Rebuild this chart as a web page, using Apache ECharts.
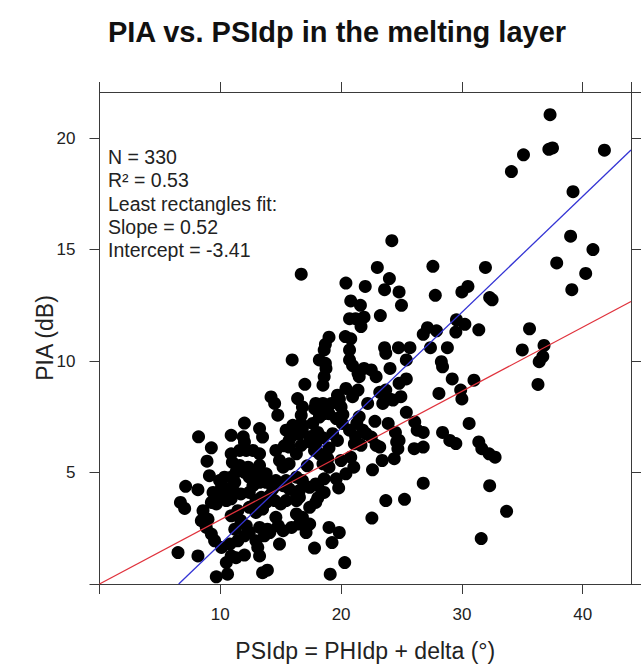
<!DOCTYPE html>
<html><head><meta charset="utf-8">
<script src="https://cdn.jsdelivr.net/npm/echarts@6/dist/echarts.min.js"></script>
<style>html,body{margin:0;padding:0;background:#fff}#c{width:641px;height:669px}</style>
</head><body><div id="c"></div>
<script>
// PSIdp values (deg)
const psidp = [
37.3,35.1,34.1,37.2,37.5,41.8,39.2,24.2,39.0,40.85,37.85,40.25,39.1,16.7,23.0,27.6,31.95,20.4,24.0,22.0,
23.6,24.8,27.8,30.0,30.5,20.8,21.6,25.0,32.3,32.5,20.7,21.2,21.9,21.65,23.25,27.15,26.8,27.9,29.55,30.25,
29.5,31.4,35.6,36.8,35.0,19.0,18.7,20.8,20.35,23.6,24.75,25.7,27.4,28.8,20.7,36.7,36.4,36.3,15.95,18.2,
18.75,18.6,18.5,17.0,20.4,14.2,14.5,14.76,16.4,16.8,16.7,16.7,17.9,18.5,19.0,18.2,19.7,20.0,12.0,13.25,
15.45,16.0,8.2,10.9,11.9,18.6,18.7,20.7,20.95,21.4,21.9,22.5,22.9,23.7,25.4,24.05,25.4,24.8,24.95,24.3,
23.2,23.7,24.0,23.45,21.5,21.4,22.2,20.95,22.8,19.86,19.2,17.8,18.6,28.3,28.4,29.2,28.1,29.9,30.0,31.0,
30.6,28.4,25.4,26.1,26.3,24.5,24.8,21.5,21.8,21.2,19.6,20.1,19.3,19.7,17.65,18.07,17.4,17.9,16.8,29.0,
29.5,31.4,23.9,31.65,32.25,32.75,26.8,32.3,23.7,25.25,22.55,33.7,31.6,20.3,19.1,19.0,19.85,19.25,17.8,16.8,
17.4,18.07,19.8,18.07,18.6,16.55,22.6,21.05,20.0,20.8,23.4,24.4,26.05,26.8,26.8,24.6,24.7,22.9,23.2,22.07,
22.5,21.1,21.65,16.7,17.4,17.8,18.5,18.9,9.26,8.9,9.1,7.13,8.15,6.7,7.05,6.5,8.15,9.67,10.6,10.9,
11.3,12.0,10.5,10.1,10.8,11.45,12.0,12.4,13.1,13.25,13.5,13.9,14.9,9.26,8.84,8.43,9.53,8.57,8.98,9.4,
9.26,9.67,10.1,10.5,9.94,10.1,10.35,10.9,11.2,10.9,11.0,12.0,11.6,12.15,12.7,13.5,13.25,11.6,12.3,11.3,
12.0,10.5,11.2,11.7,10.9,12.4,12.7,12.4,10.9,11.45,11.7,12.15,11.2,12.4,12.95,12.95,13.4,13.8,13.5,13.25,
13.9,13.65,12.95,13.25,13.8,14.35,14.1,14.6,15.2,15.7,16.3,14.5,15.0,15.45,16.3,14.6,14.8,15.2,14.1,15.9,
16.55,17.1,16.3,17.4,17.9,15.7,14.6,14.9,15.7,16.3,16.0,16.55,17.9,18.2,18.5,19.0,13.25,12.95,13.8,15.2,
16.3,15.45,16.8,16.55,17.4,17.9,18.6,19.6,20.4,15.7,15.3,18.5,19.0,20.7,21.3,20.15,17.2
];
// PIA values (dB)
const pia = [
21.05,19.25,18.5,19.5,19.56,19.46,17.6,15.4,15.6,15.0,14.4,13.93,13.2,13.9,14.2,14.25,14.2,13.5,13.7,13.35,
13.2,13.1,12.95,13.1,13.35,12.7,12.5,12.5,12.85,12.75,11.9,11.9,11.97,11.55,12.04,11.5,11.2,11.36,11.85,11.65,
11.3,11.4,11.45,10.7,10.5,11.07,10.75,11.0,11.1,10.6,10.6,10.6,10.6,10.6,10.5,10.2,9.97,8.95,10.05,10.05,
9.67,9.3,8.92,8.96,8.77,8.39,8.1,7.57,8.32,7.94,7.57,7.19,8.1,8.1,7.64,7.49,8.47,7.94,7.22,6.97,
6.9,6.67,6.6,6.67,6.6,10.5,9.9,10.05,9.8,9.45,9.67,9.6,9.3,10.35,10.05,9.67,9.2,9.0,8.4,8.25,
8.6,8.7,8.3,8.1,9.3,8.7,8.1,8.4,7.3,8.3,8.1,7.87,7.64,9.97,9.74,9.2,8.55,8.7,8.3,9.14,
7.2,6.8,7.7,7.27,6.9,6.8,6.44,7.5,6.9,6.6,7.42,7.2,6.74,6.44,7.2,6.8,6.6,6.3,7.0,6.44,
6.3,6.37,7.2,6.07,5.84,5.69,4.52,4.41,3.74,3.8,2.96,3.26,2.04,0.96,0.44,2.54,2.31,1.86,1.61,2.99,
2.69,3.86,4.31,4.41,4.72,3.89,5.12,5.24,5.54,5.69,5.54,5.62,6.07,6.14,6.8,6.37,6.07,6.22,6.14,6.74,
6.59,6.29,6.22,6.22,6.37,5.99,5.77,5.62,6.11,5.51,4.86,4.38,4.23,3.66,3.39,1.41,1.26,0.32,0.44,1.26,
1.18,1.3,0.96,1.64,1.79,1.94,2.16,2.31,1.64,1.26,0.51,0.62,1.79,2.24,2.54,2.84,1.94,3.29,2.91,4.11,
3.66,3.59,3.89,3.74,4.64,4.34,4.79,4.79,4.56,5.84,5.46,6.37,5.99,5.99,5.99,6.59,5.84,5.32,5.24,5.01,
5.01,4.27,4.11,4.04,3.82,4.79,4.41,4.11,3.06,3.29,2.84,2.61,2.46,3.44,3.21,3.74,3.89,3.66,3.36,2.54,
2.46,2.16,1.94,4.56,4.56,4.27,3.96,4.64,4.41,4.27,4.04,3.74,3.59,3.74,3.74,2.99,2.61,2.39,2.31,2.54,
2.69,2.31,3.14,3.44,3.66,6.14,5.99,5.54,5.39,5.84,7.12,6.74,6.74,5.84,5.39,5.24,5.32,4.94,4.94,5.24,
4.79,4.64,4.64,4.19,4.34,4.49,4.11,4.72,4.94,6.44,6.2,6.56,6.1,6.9,7.2,7.6,5.3
];
const xTicks = [0, 10, 20, 30, 40];
const yTicks = [0, 5, 10, 15, 20];
const xRange = [0, 44];
const yRange = [0, 22.07];
// fitted lines
const rectFit = { slope: 0.52, intercept: -3.41 };   // blue, least rectangles
const originFit = { slope: 0.288, intercept: 0 };    // red
const statLines = ['N = 330', 'R\u00B2 = 0.53', 'Least rectangles fit:', 'Slope = 0.52', 'Intercept = -3.41'];
const titleText = 'PIA vs. PSIdp in the melting layer';
const xName = 'PSIdp = PHIdp + delta (\u00B0)';
const yName = 'PIA (dB)';

const FONT = '"Liberation Sans", Arial, Helvetica, sans-serif';
const AX = '#3a3a3a';

const points = psidp.map((x, i) => [x, pia[i]]);
function fitLine(f) {
  const x0 = Math.max(xRange[0], f.intercept < 0 ? -f.intercept / f.slope : xRange[0]);
  const x1 = xRange[1];
  return [[x0, f.intercept + f.slope * x0], [x1, f.intercept + f.slope * x1]];
}

const chart = echarts.init(document.getElementById('c'), null, { renderer: 'svg' });

function xAxisDef(pos, labels) {
  return {
    type: 'value', position: pos, min: xRange[0], max: xRange[1], interval: xTicks[1] - xTicks[0],
    axisLine: { show: true, onZero: false, lineStyle: { color: AX, width: 1 } },
    axisTick: { show: true, inside: false, length: 10, lineStyle: { color: AX, width: 1 } },
    axisLabel: { show: labels, margin: 22, fontSize: 17, color: '#222', fontFamily: FONT,
      showMinLabel: true, showMaxLabel: false,
      formatter: v => (xTicks.indexOf(v) > 0 ? String(v) : '') },
    splitLine: { show: false },
    name: labels ? xName : '', nameLocation: 'middle', nameGap: 55,
    nameTextStyle: { fontSize: 23, color: '#222', fontFamily: FONT }
  };
}
function yAxisDef(pos, labels) {
  return {
    type: 'value', position: pos, min: yRange[0], max: yRange[1], interval: yTicks[1] - yTicks[0],
    axisLine: { show: true, onZero: false, lineStyle: { color: AX, width: 1 } },
    axisTick: { show: true, inside: false, length: 10, lineStyle: { color: AX, width: 1 } },
    axisLabel: { show: labels, margin: 24, fontSize: 17, color: '#222', fontFamily: FONT,
      showMinLabel: true, showMaxLabel: false,
      formatter: v => (yTicks.indexOf(v) > 0 ? String(v) : '') },
    splitLine: { show: false },
    name: labels ? yName : '', nameLocation: 'middle', nameGap: 43, nameMoveOverlap: false,
    nameTextStyle: { fontSize: 23, color: '#222', fontFamily: FONT }
  };
}

const graphics = [{
  type: 'text', x: 337, y: 32,
  style: { text: titleText, fontSize: 29, fontWeight: 'bold', fontFamily: FONT, fill: '#111',
    align: 'center', verticalAlign: 'middle' }
}];
statLines.forEach((t, i) => graphics.push({
  type: 'text', x: 108, y: 157 + i * 23.3,
  style: { text: t, fontSize: 19.5, fontFamily: FONT, fill: '#222', align: 'left', verticalAlign: 'middle' }
}));

chart.setOption({
  animation: false,
  backgroundColor: '#fff',
  grid: { left: 99.5, right: 10, top: 92, bottom: 85, containLabel: false },
  xAxis: [xAxisDef('bottom', true), xAxisDef('top', false)],
  yAxis: [yAxisDef('left', true), yAxisDef('right', false)],
  graphic: graphics,
  series: [
    { type: 'scatter', xAxisIndex: 0, yAxisIndex: 0, data: points, symbol: 'circle', symbolSize: 13,
      itemStyle: { color: '#000', opacity: 1 }, z: 3 },
    { type: 'line', xAxisIndex: 0, yAxisIndex: 0, data: fitLine(originFit), showSymbol: false, symbol: 'none',
      lineStyle: { color: '#e0323c', width: 1.3 }, z: 4 },
    { type: 'line', xAxisIndex: 0, yAxisIndex: 0, data: fitLine(rectFit), showSymbol: false, symbol: 'none',
      lineStyle: { color: '#3434d4', width: 1.3 }, z: 4 }
  ]
});
</script></body></html>
